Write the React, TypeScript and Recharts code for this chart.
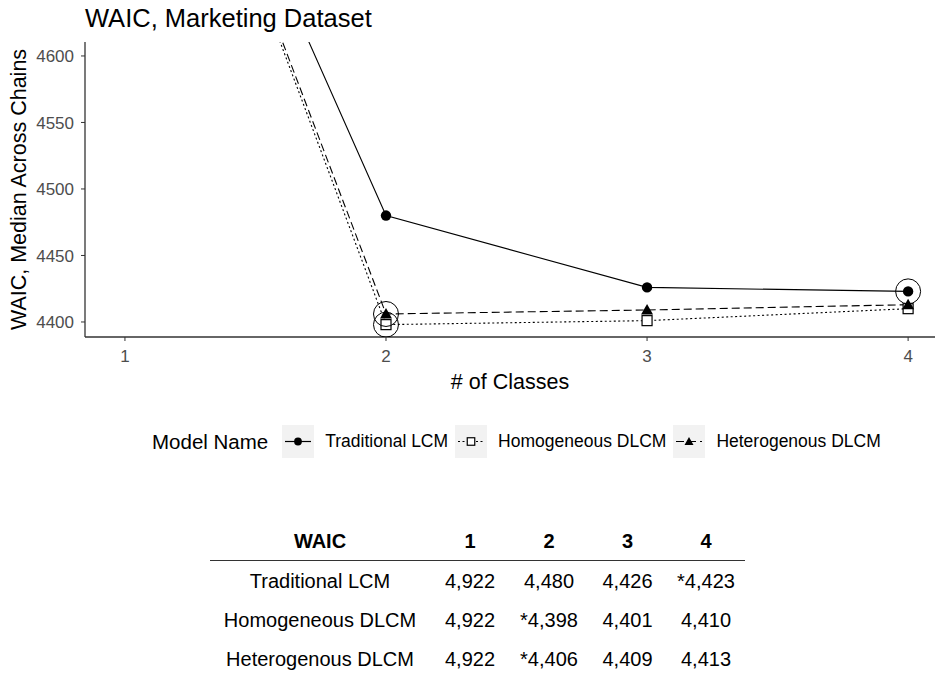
import React from "react";
import { LineChart, Line, XAxis, YAxis } from "recharts";

const classes = [1, 2, 3, 4];
const traditional = [4922, 4480, 4426, 4423];
const homogeneous = [4922, 4398, 4401, 4410];
const heterogenous = [4922, 4406, 4409, 4413];
const yTicks = [4400, 4450, 4500, 4550, 4600];
const seriesNames = ["Traditional LCM", "Homogeneous DLCM", "Heterogenous DLCM"];

const Y_MIN = 4388.7;
const Y_MAX = 4610.5;
const FONT = "'Liberation Sans', Arial, sans-serif";

const data = classes.map((c, i) => ({
  x: c,
  trad: traditional[i],
  homo: homogeneous[i],
  hetero: heterogenous[i],
}));

const bestIdx = (arr: number[]) => arr.indexOf(Math.min(...arr));

type Shape = "circle" | "square" | "triangle";

function marker(shape: Shape, cx: number, cy: number, s = 1) {
  if (shape === "circle") return <circle cx={cx} cy={cy} r={5.2 * s} fill="#000" />;
  if (shape === "square")
    return <rect x={cx - 5 * s} y={cy - 5 * s} width={10 * s} height={10 * s} fill="#fff" stroke="#000" strokeWidth={1.2} />;
  return <polygon points={`${cx},${cy - 6 * s} ${cx + 6 * s},${cy + 4.5 * s} ${cx - 6 * s},${cy + 4.5 * s}`} fill="#000" />;
}

function makeDot(shape: Shape, values: number[]) {
  const best = bestIdx(values);
  // eslint-disable-next-line @typescript-eslint/no-explicit-any
  return (props: any) => {
    const { cx, cy, index } = props;
    if (values[index] > Y_MAX) return <g key={index} />;
    return (
      <g key={index}>
        {marker(shape, cx, cy)}
        {index === best && <circle cx={cx} cy={cy} r={12.5} fill="none" stroke="#000" strokeWidth={1} />}
      </g>
    );
  };
}

function LegendKey({ shape, dash }: { shape: Shape; dash?: string }) {
  return (
    <svg width={32} height={33} style={{ display: "block" }}>
      <rect width={32} height={33} fill="#f2f2f2" />
      <line x1={3} x2={29} y1={16.5} y2={16.5} stroke="#000" strokeWidth={1.2} strokeDasharray={dash} />
      {marker(shape, 16, 16.5, 0.75)}
    </svg>
  );
}

const fmt = (v: number) => v.toLocaleString("en-US");
const rows = [traditional, homogeneous, heterogenous];
const DOTTED = "2 2.5";
const DASHED = "8 4";

export default function App() {
  return (
    <div style={{ position: "absolute", left: 0, top: 0, width: 937, height: 677, background: "#fff", fontFamily: FONT, overflow: "hidden" }}>
      <div style={{ position: "absolute", left: 85, top: 4, fontSize: 25.5, color: "#000", whiteSpace: "nowrap" }}>WAIC, Marketing Dataset</div>

      <LineChart width={937} height={400} data={data} margin={{ top: 42, right: 2, left: 0, bottom: 0 }}>
        <XAxis
          type="number"
          dataKey="x"
          domain={[0.847, 4.103]}
          ticks={classes}
          allowDataOverflow
          height={63}
          tickSize={4}
          tickMargin={9}
          axisLine={{ stroke: "#333", strokeWidth: 1.3 }}
          tickLine={{ stroke: "#333" }}
          tick={{ fill: "#4d4d4d", fontSize: 17, fontFamily: FONT }}
          label={{ value: "# of Classes", position: "insideBottom", offset: 11, fill: "#000", fontSize: 21.5, fontFamily: FONT }}
        />
        <YAxis
          type="number"
          domain={[Y_MIN, Y_MAX]}
          ticks={yTicks}
          allowDataOverflow
          width={85}
          tickSize={4}
          tickMargin={7}
          axisLine={{ stroke: "#333", strokeWidth: 1.3 }}
          tickLine={{ stroke: "#333" }}
          tick={{ fill: "#4d4d4d", fontSize: 17, fontFamily: FONT }}
          label={{ value: "WAIC, Median Across Chains", angle: -90, position: "insideLeft", offset: 18, fill: "#000", fontSize: 21.5, fontFamily: FONT, style: { textAnchor: "middle" } }}
        />
        <Line dataKey="trad" stroke="#000" strokeWidth={1.1} dot={makeDot("circle", traditional)} isAnimationActive={false} />
        <Line dataKey="homo" stroke="#000" strokeWidth={1.1} strokeDasharray={DOTTED} dot={makeDot("square", homogeneous)} isAnimationActive={false} />
        <Line dataKey="hetero" stroke="#000" strokeWidth={1.1} strokeDasharray={DASHED} dot={makeDot("triangle", heterogenous)} isAnimationActive={false} />
      </LineChart>

      <div style={{ position: "absolute", left: 152, top: 425, height: 33, display: "flex", alignItems: "center", fontSize: 17.5, color: "#000", whiteSpace: "nowrap" }}>
        <span style={{ fontSize: 20.5, marginRight: 14 }}>Model Name</span>
        <LegendKey shape="circle" />
        <span style={{ marginLeft: 11, marginRight: 7 }}>{seriesNames[0]}</span>
        <LegendKey shape="square" dash={DOTTED} />
        <span style={{ marginLeft: 11, marginRight: 7 }}>{seriesNames[1]}</span>
        <LegendKey shape="triangle" dash={DASHED} />
        <span style={{ marginLeft: 11 }}>{seriesNames[2]}</span>
      </div>

      <table style={{ position: "absolute", left: 210, top: 524, width: 535, borderCollapse: "collapse", fontSize: 20, color: "#000", tableLayout: "fixed" }}>
        <colgroup>
          <col style={{ width: 220 }} />
          <col style={{ width: 80 }} />
          <col style={{ width: 78 }} />
          <col style={{ width: 79 }} />
          <col style={{ width: 78 }} />
        </colgroup>
        <thead>
          <tr style={{ height: 36, borderBottom: "1.5px solid #333" }}>
            <th style={{ padding: 0 }}>WAIC</th>
            {classes.map((c) => (
              <th key={c} style={{ padding: 0 }}>{c}</th>
            ))}
          </tr>
        </thead>
        <tbody>
          {rows.map((r, ri) => {
            const b = bestIdx(r);
            return (
              <tr key={ri} style={{ height: 39, borderBottom: ri === rows.length - 1 ? "1px solid #bbb" : "none" }}>
                <td style={{ textAlign: "center", padding: "4px 0 0 0" }}>{seriesNames[ri]}</td>
                {r.map((v, i) => (
                  <td key={i} style={{ textAlign: "center", padding: "4px 0 0 0" }}>{(i === b ? "*" : "") + fmt(v)}</td>
                ))}
              </tr>
            );
          })}
        </tbody>
      </table>
    </div>
  );
}
